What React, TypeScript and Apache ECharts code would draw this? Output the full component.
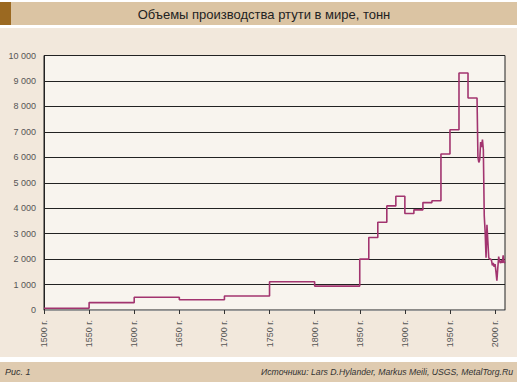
import React, { useEffect, useRef } from "react";
import * as echarts from "echarts";

// Decade/period averages (step part), tonnes
const stepStarts = [1500, 1550, 1600, 1650, 1700, 1750, 1800, 1850, 1860, 1870, 1880, 1890, 1900, 1910, 1920, 1930, 1940, 1950, 1960, 1970];
const stepEnd = 1980;
const stepValues = [70, 290, 500, 400, 550, 1110, 940, 2000, 2850, 3450, 4090, 4470, 3790, 3935, 4220, 4290, 6130, 7085, 9310, 8330];

// Annual values after 1980, tonnes
const annualYears = [1981, 1982, 1983, 1984, 1985, 1986, 1987, 1988, 1989, 1990, 1991, 1992, 1993, 1994, 1995, 1996, 1997, 1998, 1999, 2000, 2001, 2002, 2003, 2004, 2005, 2006, 2007, 2008, 2009, 2010, 2011];
const annualValues = [6000, 5800, 5900, 6600, 6400, 6700, 6300, 3700, 3070, 2050, 3350, 2700, 2050, 2000, 2000, 1960, 1750, 1850, 1700, 1800, 1500, 1150, 1650, 2100, 1900, 1850, 1950, 1850, 2150, 1850, 1900];

const yearTicks = [1500, 1550, 1600, 1650, 1700, 1750, 1800, 1850, 1900, 1950, 2000];
const xMin = 1500;
const xMax = 2011;

const titleText = "Объемы производства ртути в мире, тонн";
const figText = "Рис. 1";
const sourceText = "Источники: Lars D.Hylander, Markus Meili, USGS, MetalTorg.Ru";

function buildData(): [number, number][] {
  const pts: [number, number][] = [];
  for (let i = 0; i < stepStarts.length; i++) {
    const end = i + 1 < stepStarts.length ? stepStarts[i + 1] : stepEnd;
    pts.push([stepStarts[i], stepValues[i]]);
    pts.push([end, stepValues[i]]);
  }
  for (let i = 0; i < annualYears.length; i++) {
    pts.push([annualYears[i], annualValues[i]]);
  }
  return pts;
}

function fmtThousands(v: number): string {
  if (v < 1000) return String(v);
  const th = Math.floor(v / 1000);
  const rest = String(v % 1000).padStart(3, "0");
  return th + " " + rest;
}

export default function App() {
  const ref = useRef<HTMLDivElement>(null);
  useEffect(() => {
    if (!ref.current) return;
    const chart = echarts.init(ref.current, undefined, { renderer: "svg" });
    const font = "'Liberation Sans', Arial, sans-serif";
    chart.setOption({
      animation: false,
      backgroundColor: "#ffffff",
      textStyle: { fontFamily: font },
      graphic: [
        { type: "rect", z: -10, shape: { x: 0, y: 2, width: 517, height: 23 }, style: { fill: "#dbc4a3" } },
        { type: "rect", z: -9, shape: { x: 0, y: 2, width: 11, height: 23 }, style: { fill: "#9b6921" } },
        { type: "rect", z: -10, shape: { x: 0, y: 28, width: 517, height: 329 }, style: { fill: "#f2e8dc" } },
        { type: "rect", z: -10, shape: { x: 0, y: 362, width: 517, height: 20 }, style: { fill: "#dfcbb0" } },
        {
          type: "text", z: 5, x: 264, y: 14,
          style: { text: titleText, fill: "#222", font: "13px " + font, textAlign: "center", textVerticalAlign: "middle" },
        },
        {
          type: "text", z: 5, x: 5, y: 372,
          style: { text: figText, fill: "#333", font: "italic 9px " + font, textAlign: "left", textVerticalAlign: "middle" },
        },
        {
          type: "text", z: 5, x: 513, y: 372,
          style: { text: sourceText, fill: "#333", font: "italic 8.7px " + font, textAlign: "right", textVerticalAlign: "middle" },
        },
      ],
      grid: {
        left: 44, right: 12, top: 55.5, bottom: 72,
        show: true, backgroundColor: "#f8f4ee", borderColor: "#222", borderWidth: 1,
      },
      xAxis: {
        type: "value", min: xMin, max: xMax,
        axisLine: { show: true, lineStyle: { color: "#999", width: 1 } },
        axisTick: { show: true, customValues: yearTicks, length: 4, lineStyle: { color: "#333" } },
        axisLabel: {
          customValues: yearTicks, rotate: 90, margin: 10, fontSize: 9, color: "#555",
          formatter: (v: number) => v + " г.",
        },
        splitLine: { show: false },
      },
      yAxis: {
        type: "value", min: 0, max: 10000, interval: 1000,
        axisLine: { show: true, lineStyle: { color: "#222", width: 1 } },
        axisTick: { show: false },
        axisLabel: { fontSize: 9, color: "#555", margin: 8, formatter: (v: number) => fmtThousands(v) },
        splitLine: { show: true, lineStyle: { color: "#222", width: 1 } },
      },
      series: [
        {
          type: "line", data: buildData(), showSymbol: false, symbol: "none",
          lineStyle: { color: "#a2346f", width: 1.6 }, z: 3,
        },
      ],
    });
    return () => chart.dispose();
  }, []);
  return <div ref={ref} style={{ position: "absolute", left: 0, top: 0, width: 517, height: 382 }} />;
}
